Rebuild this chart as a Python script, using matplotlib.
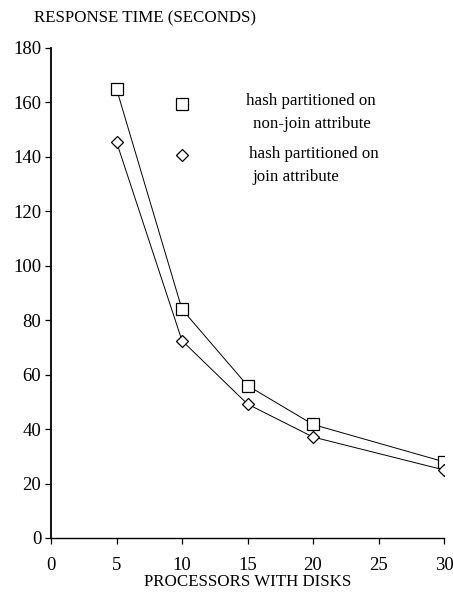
import matplotlib
matplotlib.use("Agg")
import matplotlib.pyplot as plt

x_nonjoin = [5, 10, 15, 20, 30]
y_nonjoin = [165, 84, 56, 41.7, 28]
x_join = [5, 10, 15, 20, 30]
y_join = [145.5, 72.5, 49.2, 37.1, 25]
xticks = [0, 5, 10, 15, 20, 25, 30]
yticks = [0, 20, 40, 60, 80, 100, 120, 140, 160, 180]

plt.rcParams['font.family'] = ['Liberation Serif', 'DejaVu Serif']
fs = 12.2
tfs = 13.5

fig = plt.figure(figsize=(4.53, 5.93), dpi=100)
W, H = 453, 593
ax = fig.add_axes([51 / W, 1 - 538 / H, (444 - 51) / W, (538 - 48) / H])
ax.set_xlim(0, 30)
ax.set_ylim(0, 180)
for s in ['top', 'right']:
    ax.spines[s].set_visible(False)
ax.spines['left'].set_linewidth(1.3)
ax.spines['bottom'].set_linewidth(1.0)

ax.plot(x_nonjoin, y_nonjoin, color='black', lw=0.7, marker='s', ms=8,
        mfc='white', mec='black', mew=0.9, zorder=3)
ax.plot(x_join, y_join, color='black', lw=0.7, marker='D', ms=6,
        mfc='white', mec='black', mew=0.9, zorder=3)

ax.set_xticks(xticks)
ax.set_yticks(yticks)
ax.tick_params(direction='out', length=4, width=0.9, labelsize=tfs, pad=3)
ax.tick_params(axis='x', pad=10)

# legend
ax.plot([10], [159.4], marker='s', ms=8, mfc='white', mec='black', mew=0.9,
        ls='none', clip_on=False)
ax.plot([10], [140.6], marker='D', ms=6, mfc='white', mec='black', mew=0.9,
        ls='none', clip_on=False)
ax.text(19.85, 160.5, 'hash partitioned on', ha='center', va='center', fontsize=fs)
ax.text(19.95, 152.2, 'non-join attribute', ha='center', va='center', fontsize=fs)
ax.text(20.05, 141.0, 'hash partitioned on', ha='center', va='center', fontsize=fs)
ax.text(15.35, 132.6, 'join attribute', ha='left', va='center', fontsize=fs)

fig.text(34 / W, 1 - 18 / H, 'RESPONSE TIME (SECONDS)', ha='left', va='center', fontsize=fs)
fig.text((51 + 444) / 2 / W, 1 - 582 / H, 'PROCESSORS WITH DISKS', ha='center', va='center', fontsize=fs)

fig.savefig('out.png', dpi=100, facecolor='white')
